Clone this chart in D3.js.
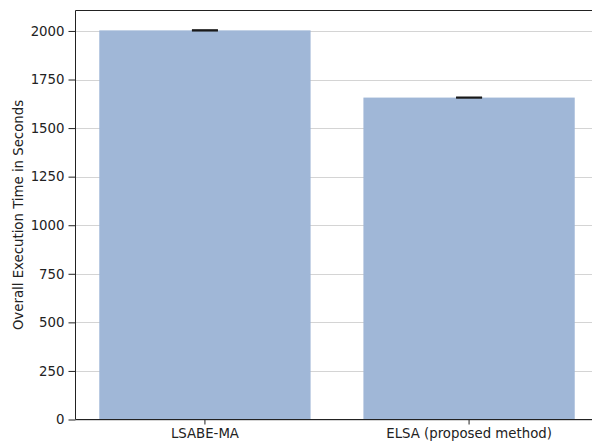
<!DOCTYPE html>
<html>
<head>
<meta charset="utf-8">
<script src="https://cdn.jsdelivr.net/npm/d3@7"></script>
<style>
  html, body { margin: 0; padding: 0; background: #fff; }
  svg { display: block; font-family: "DejaVu Sans", sans-serif; }
</style>
</head>
<body>
<svg id="chart" width="592" height="444"></svg>
<script>
// Methods compared and their mean execution times (seconds) with spread
const methods = ["LSABE-MA", "ELSA (proposed method)"];
const meanTimes = [2003, 1657];
const timeErrors = [2, 1.5];
const yTicks = [0, 250, 500, 750, 1000, 1250, 1500, 1750, 2000];
const yLabel = "Overall Execution Time in Seconds";

const svg = d3.select("#chart");
const plotL = 75.5, plotR = 598.5, plotT = 10.5, plotB = 419.5;
const fontSize = "13.3px";

const yMax = d3.max(meanTimes.map((m, i) => m + timeErrors[i])) * 1.05;

const x = d3.scaleBand()
  .domain(methods)
  .range([plotL, plotR])
  .paddingInner(0.2)
  .paddingOuter(0.09);

const y = d3.scaleLinear()
  .domain([0, yMax])
  .range([plotB, plotT]);

// horizontal grid lines behind the bars
svg.append("g")
  .selectAll("line")
  .data(yTicks)
  .join("line")
  .attr("x1", plotL).attr("x2", plotR)
  .attr("y1", d => Math.round(y(d)) + 0.5)
  .attr("y2", d => Math.round(y(d)) + 0.5)
  .attr("stroke", "#d4d4d4")
  .attr("stroke-width", 1);

// bars
svg.append("g")
  .selectAll("rect")
  .data(methods)
  .join("rect")
  .attr("x", d => x(d))
  .attr("width", x.bandwidth())
  .attr("y", (d, i) => y(meanTimes[i]))
  .attr("height", (d, i) => plotB - y(meanTimes[i]))
  .attr("fill", "#a0b7d7");

// error bars with caps
const eb = svg.append("g").attr("stroke", "#1a1a1a").attr("stroke-width", 1.6);
methods.forEach((m, i) => {
  const cx = x(m) + x.bandwidth() / 2;
  const hi = y(meanTimes[i] + timeErrors[i]);
  const lo = y(meanTimes[i] - timeErrors[i]);
  eb.append("line").attr("x1", cx).attr("x2", cx).attr("y1", hi).attr("y2", lo);
  eb.append("line").attr("x1", cx - 13).attr("x2", cx + 13).attr("y1", hi).attr("y2", hi);
  eb.append("line").attr("x1", cx - 13).attr("x2", cx + 13).attr("y1", lo).attr("y2", lo);
});

// axes
const yAxis = d3.axisLeft(y).tickValues(yTicks).tickSize(7).tickPadding(4).tickFormat(d3.format("d"));
const gy = svg.append("g").attr("transform", `translate(${plotL},0)`).call(yAxis);
gy.select(".domain").remove();

const xAxis = d3.axisBottom(x).tickSize(5).tickPadding(4);
const gx = svg.append("g").attr("transform", `translate(0,${plotB})`).call(xAxis);
gx.select(".domain").remove();

[gy, gx].forEach(g => {
  g.selectAll("text").attr("font-size", fontSize).attr("fill", "#222").attr("font-family", "DejaVu Sans, sans-serif");
  g.selectAll(".tick line").attr("stroke", "#222").attr("stroke-width", 1);
});

// frame (left, top, bottom, right spines)
const spines = svg.append("g").attr("stroke", "#222").attr("stroke-width", 1).attr("fill", "none");
spines.append("line").attr("x1", plotL).attr("x2", plotL).attr("y1", plotT).attr("y2", plotB);
spines.append("line").attr("x1", plotL).attr("x2", plotR).attr("y1", plotT).attr("y2", plotT);
spines.append("line").attr("x1", plotL).attr("x2", plotR).attr("y1", plotB).attr("y2", plotB);
spines.append("line").attr("x1", plotR).attr("x2", plotR).attr("y1", plotT).attr("y2", plotB);

// y-axis title
svg.append("text")
  .attr("transform", `translate(23,${(plotT + plotB) / 2}) rotate(-90)`)
  .attr("text-anchor", "middle")
  .attr("font-size", fontSize)
  .attr("fill", "#222")
  .text(yLabel);
</script>
</body>
</html>
